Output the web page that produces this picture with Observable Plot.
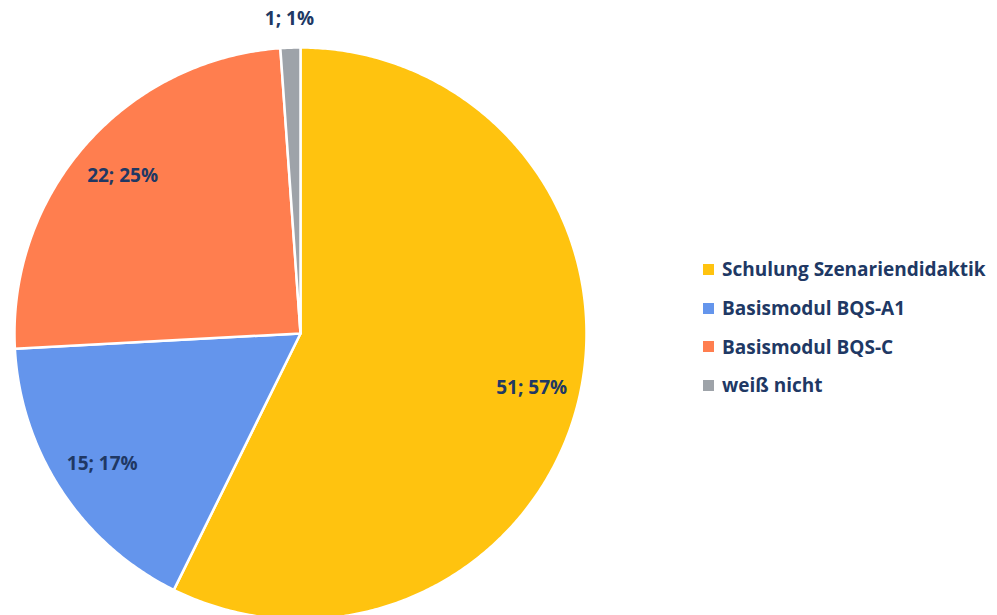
<!DOCTYPE html>
<html>
<head>
<meta charset="utf-8">
<script src="https://cdn.jsdelivr.net/npm/d3@7"></script>
<script src="https://cdn.jsdelivr.net/npm/@observablehq/plot@0.6"></script>
<style>
  html, body { margin: 0; padding: 0; background: #fff; }
  #wrap { position: relative; width: 997px; height: 615px; overflow: hidden; font-family: "Open Sans", Lato, sans-serif; }
  #legend { position: absolute; left: 703px; top: 250px; }
  .row { display: flex; align-items: center; height: 38.7px; }
  .sw { width: 11px; height: 11px; margin-right: 8px; flex: none; }
  .lab { font-size: 19px; font-weight: 700; color: #203864; white-space: nowrap; }
</style>
</head>
<body>
<div id="wrap"><div id="legend"></div></div>
<script>
const categories = ["Schulung Szenariendidaktik", "Basismodul BQS-A1", "Basismodul BQS-C", "weiß nicht"];
const counts = [51, 15, 22, 1];
const percents = [57, 17, 25, 1];
const colors = ["#FFC30F", "#6495EC", "#FF7E4F", "#9EA3A9"];

const cx = 300, cy = 333, r = 286;
const total = d3.sum(counts);

// slice outlines in unit coordinates (angle 0 = 12 o'clock, clockwise)
const pts = [];
const labels = [];
let acc = 0;
categories.forEach((c, i) => {
  const a0 = acc / total * 2 * Math.PI;
  acc += counts[i];
  const a1 = acc / total * 2 * Math.PI;
  pts.push({category: c, x: 0, y: 0});
  const n = Math.max(2, Math.ceil((a1 - a0) / (Math.PI / 360)));
  for (let k = 0; k <= n; k++) {
    const a = a0 + (a1 - a0) * k / n;
    pts.push({category: c, x: Math.sin(a), y: Math.cos(a)});
  }
  const am = (a0 + a1) / 2;
  const small = counts[i] / total < 0.05;
  const lr = small ? 1.1 : 0.83;
  labels.push({category: c, x: lr * Math.sin(am), y: lr * Math.cos(am), text: `${counts[i]}; ${percents[i]}%`});
});

const chart = Plot.plot({
  width: 997,
  height: 615,
  margin: 0,
  style: {fontFamily: "'Open Sans', Lato, sans-serif", background: "transparent"},
  x: {domain: [-1, 1], range: [cx - r, cx + r], axis: null},
  y: {domain: [-1, 1], range: [cy + r, cy - r], axis: null},
  color: {domain: categories, range: colors},
  marks: [
    Plot.line(pts, {x: "x", y: "y", z: "category", fill: "category", stroke: "white", strokeWidth: 2.5, strokeLinejoin: "round", curve: "linear-closed"}),
    Plot.text(labels, {x: "x", y: "y", text: "text", fill: "#203864", fontSize: 19, fontWeight: "bold"})
  ]
});
const wrap = document.getElementById("wrap");
wrap.insertBefore(chart, wrap.firstChild);

const leg = d3.select("#legend");
categories.forEach((c, i) => {
  const row = leg.append("div").attr("class", "row");
  row.append("div").attr("class", "sw").style("background", colors[i]);
  row.append("div").attr("class", "lab").text(c);
});
</script>
</body>
</html>
